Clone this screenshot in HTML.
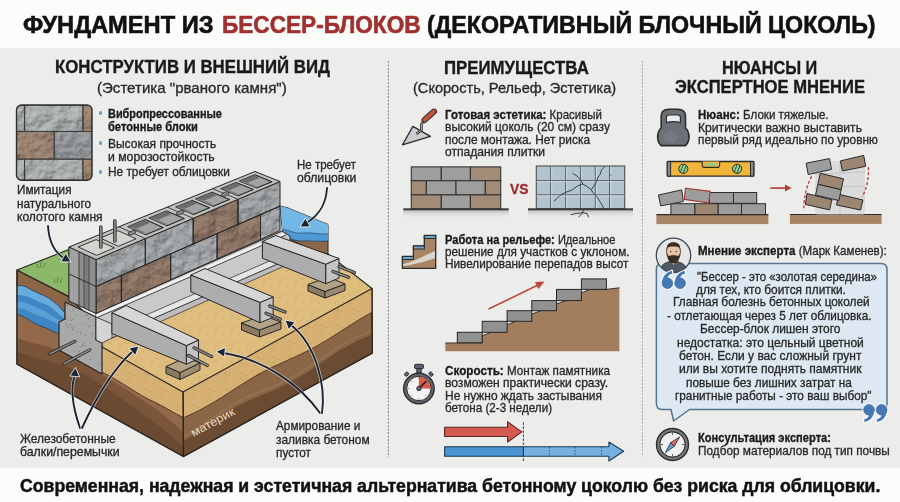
<!DOCTYPE html>
<html><head><meta charset="utf-8"><style>
html,body{margin:0;padding:0;}
body{width:900px;height:502px;overflow:hidden;position:relative;background:#fcfcfb;font-family:"Liberation Sans",sans-serif;}
.t{position:absolute;white-space:nowrap;line-height:1;transform-origin:0 0;-webkit-text-stroke:0.32px currentColor;}
.dot{position:absolute;width:3.6px;height:3.6px;border-radius:50%;background:#6a9bd1;}
.panel{position:absolute;left:0;top:48px;width:900px;height:420px;background:#ececea;}
.vd{position:absolute;width:0;border-left:1.2px dashed #9a9a9a;}

#title1,#title2,#title3{-webkit-text-stroke:0.6px currentColor;}
#cap{-webkit-text-stroke:0.5px currentColor;}
#h1,#h2,#h3a,#h3b{-webkit-text-stroke:0.35px currentColor;}

</style></head><body>
<div class="panel"></div>
<div class="dot" style="left:98.8px;top:111.2px"></div>
<div class="dot" style="left:98.8px;top:141.2px"></div>
<div class="dot" style="left:98.8px;top:170px"></div>
<svg width="900" height="502" viewBox="0 0 900 502" style="position:absolute;left:0;top:0">
<defs>
<linearGradient id="stoneG" x1="0" y1="0" x2="1" y2="1">
 <stop offset="0" stop-color="#b3b6b8"/><stop offset="0.45" stop-color="#9a9d9f"/><stop offset="0.7" stop-color="#a9acae"/><stop offset="1" stop-color="#8c8f91"/>
</linearGradient>
<linearGradient id="stoneB" x1="0" y1="0" x2="1" y2="1">
 <stop offset="0" stop-color="#9c8371"/><stop offset="0.5" stop-color="#87705f"/><stop offset="0.75" stop-color="#957c69"/><stop offset="1" stop-color="#7a6453"/>
</linearGradient>
<linearGradient id="stoneG2" x1="0" y1="0" x2="1" y2="1">
 <stop offset="0" stop-color="#9a9ea1"/><stop offset="0.5" stop-color="#86898c"/><stop offset="1" stop-color="#95989b"/>
</linearGradient>
<pattern id="sandT" width="16" height="16" patternUnits="userSpaceOnUse"><rect width="16" height="16" fill="#dfbd7e"/><circle cx="7.2" cy="9.0" r="0.53" fill="#a88650" opacity="0.69"/><circle cx="8.1" cy="9.4" r="0.35" fill="#a88650" opacity="0.70"/><circle cx="10.1" cy="12.7" r="0.32" fill="#a88650" opacity="0.62"/><circle cx="1.5" cy="13.0" r="0.47" fill="#a88650" opacity="0.52"/><circle cx="15.7" cy="15.4" r="0.46" fill="#a88650" opacity="0.75"/><circle cx="2.5" cy="0.2" r="0.43" fill="#a88650" opacity="0.52"/><circle cx="3.0" cy="3.9" r="0.31" fill="#a88650" opacity="0.69"/><circle cx="7.0" cy="13.5" r="0.43" fill="#a88650" opacity="0.76"/><circle cx="8.0" cy="10.6" r="0.41" fill="#a88650" opacity="0.61"/><circle cx="16.0" cy="15.9" r="0.51" fill="#a88650" opacity="0.78"/><circle cx="5.0" cy="3.7" r="0.37" fill="#a88650" opacity="0.53"/><circle cx="12.3" cy="6.4" r="0.51" fill="#a88650" opacity="0.65"/><circle cx="15.3" cy="13.6" r="0.30" fill="#a88650" opacity="0.58"/><circle cx="14.6" cy="7.5" r="0.55" fill="#a88650" opacity="0.66"/></pattern><pattern id="sandF" width="16" height="16" patternUnits="userSpaceOnUse"><rect width="16" height="16" fill="#d6b173"/><circle cx="1.2" cy="10.1" r="0.49" fill="#9c7a46" opacity="0.61"/><circle cx="1.4" cy="5.3" r="0.54" fill="#9c7a46" opacity="0.80"/><circle cx="1.9" cy="3.9" r="0.33" fill="#9c7a46" opacity="0.52"/><circle cx="12.8" cy="2.8" r="0.44" fill="#9c7a46" opacity="0.68"/><circle cx="3.1" cy="11.7" r="0.33" fill="#9c7a46" opacity="0.76"/><circle cx="1.9" cy="6.7" r="0.35" fill="#9c7a46" opacity="0.61"/><circle cx="15.5" cy="12.9" r="0.38" fill="#9c7a46" opacity="0.85"/><circle cx="3.4" cy="6.3" r="0.51" fill="#9c7a46" opacity="0.76"/><circle cx="1.6" cy="15.8" r="0.35" fill="#9c7a46" opacity="0.60"/><circle cx="12.4" cy="5.3" r="0.37" fill="#9c7a46" opacity="0.53"/><circle cx="1.4" cy="9.3" r="0.36" fill="#9c7a46" opacity="0.74"/><circle cx="5.9" cy="7.3" r="0.54" fill="#9c7a46" opacity="0.69"/><circle cx="9.2" cy="13.9" r="0.35" fill="#9c7a46" opacity="0.56"/><circle cx="14.5" cy="13.1" r="0.36" fill="#9c7a46" opacity="0.58"/></pattern>
<filter id="rock" x="0" y="0" width="100%" height="100%" color-interpolation-filters="sRGB">
 <feTurbulence type="fractalNoise" baseFrequency="0.08" numOctaves="4" seed="7" result="noise"/>
 <feDiffuseLighting in="noise" lighting-color="#ffffff" surfaceScale="3.3" diffuseConstant="1" result="light"><feDistantLight azimuth="235" elevation="55"/></feDiffuseLighting>
 <feComposite in="SourceGraphic" in2="light" operator="arithmetic" k1="0.6" k2="0.48" k3="0" k4="0" result="lit"/>
 <feComposite in="lit" in2="SourceGraphic" operator="in"/>
</filter>
<filter id="grain" x="0" y="0" width="100%" height="100%">
 <feTurbulence type="fractalNoise" baseFrequency="0.9" numOctaves="1" seed="4" result="n"/>
 <feColorMatrix type="matrix" values="0 0 0 0 0.45  0 0 0 0 0.35  0 0 0 0 0.2  0 0 0 -2.2 1.25" in="n" result="d"/>
 <feComposite in="d" in2="SourceGraphic" operator="in"/>
</filter>
</defs>
<line x1="388.4" y1="61" x2="388.4" y2="457" stroke="#8e8e8e" stroke-width="1.1" stroke-dasharray="2.2,1.3"/>
<line x1="642.4" y1="61" x2="642.4" y2="457" stroke="#a8a8a8" stroke-width="1" stroke-dasharray="2.2,1.3"/>
<polygon points="17.0,270.0 69.0,297.0 102.0,330.0 102.0,347.0 183.0,392.0 183.5,456.5 17.0,364.0" fill="#8d6648" stroke="#2a2520" stroke-width="1.2" stroke-linejoin="round" />
<path d="M17,314 C30,318 45,322 64,335 L102,356 C120,368 150,385 183.3,412 L183.5,456.5 L17,364 Z" fill="#94694a"/>
<path d="M17,338 C35,345 50,345 70,356 C95,370 120,385 150,405 C165,415 175,425 183.5,432 L183.5,456.5 L17,364 Z" fill="#7a5539"/>
<path d="M17,352 C40,360 60,362 85,375 C110,390 140,410 183.5,446 L183.5,456.5 L17,364 Z" fill="#6a4a31"/>
<path d="M17,285.8 C25,284 30,290 38,293 C46,296 52,300 58,305 L64,312 L64,336 C55,333 48,328 40,326 C32,323 25,316 17,314.3 Z" fill="#3f86c4"/>
<path d="M17,285.8 C25,284 30,290 38,293 C46,296 52,300 58,305 L64,312 L64,318 C56,312 50,305 42,303 C34,300 26,294 17,295 Z" fill="#66acdf"/>
<path d="M17,302 C26,301 32,306 40,309 C48,312 54,318 64,322 L64,327 C54,323 47,318 40,316 C31,313 25,308 17,308 Z" fill="#5a9fd6"/>
<path d="M17,285.8 C25,284 30,290 38,293 C46,296 52,300 58,305 L64,312" fill="none" stroke="#2a3a4a" stroke-width="0.8"/>
<path d="M17,314.3 C25,316 32,323 40,326 C48,328 55,333 64,336" fill="none" stroke="#2a3a4a" stroke-width="0.8"/>
<path d="M102,347 L183,392 L183,417.5 C172,412 160,404 148,399 C135,392 120,381 102,372 Z" fill="url(#sandF)"/>
<path d="M102,372 C120,381 135,392 148,399 C160,404 172,412 183,417.5" fill="none" stroke="#3a2a1a" stroke-width="0.8"/>
<polygon points="183.0,392.0 372.0,288.5 372.3,353.0 183.5,456.5" fill="#8a6647" stroke="#2a2520" stroke-width="1.2" stroke-linejoin="round" />
<path d="M183.0,441.0 C185.6,439.4 193.5,434.8 198.8,431.4 C204.0,428.0 209.2,424.1 214.5,420.6 C219.8,417.1 225.0,413.5 230.2,410.3 C235.5,407.2 240.8,404.4 246.0,401.8 C251.2,399.2 256.5,397.2 261.8,394.9 C267.0,392.7 272.2,390.8 277.5,388.4 C282.8,386.0 288.0,383.5 293.2,380.6 C298.5,377.7 303.8,374.4 309.0,371.0 C314.2,367.6 319.5,363.7 324.8,360.2 C330.0,356.7 335.2,353.1 340.5,349.9 C345.8,346.8 351.0,344.0 356.2,341.4 C361.5,338.9 369.4,335.7 372.0,334.6 L372.3,353 L183.5,456.5 Z" fill="#6b4b32"/>
<path d="M183.0,441.0 C185.6,439.4 193.5,434.8 198.8,431.4 C204.0,428.0 209.2,424.1 214.5,420.6 C219.8,417.1 225.0,413.5 230.2,410.3 C235.5,407.2 240.8,404.4 246.0,401.8 C251.2,399.2 256.5,397.2 261.8,394.9 C267.0,392.7 272.2,390.8 277.5,388.4 C282.8,386.0 288.0,383.5 293.2,380.6 C298.5,377.7 303.8,374.4 309.0,371.0 C314.2,367.6 319.5,363.7 324.8,360.2 C330.0,356.7 335.2,353.1 340.5,349.9 C345.8,346.8 351.0,344.0 356.2,341.4 C361.5,338.9 369.4,335.7 372.0,334.6" fill="none" stroke="#9c7a59" stroke-width="1.6" opacity="0.6" transform="translate(0,-4)"/>
<path d="M183.0,418.0 C185.6,416.8 193.5,413.3 198.8,410.6 C204.0,407.8 209.2,404.9 214.5,401.8 C219.8,398.7 225.0,395.2 230.2,391.9 C235.5,388.5 240.8,385.0 246.0,381.8 C251.2,378.5 256.5,375.4 261.8,372.6 C267.0,369.7 272.2,367.2 277.5,364.8 C282.8,362.3 288.0,360.1 293.2,357.7 C298.5,355.3 303.8,352.9 309.0,350.2 C314.2,347.5 319.5,344.5 324.8,341.4 C330.0,338.3 335.2,334.8 340.5,331.5 C345.8,328.1 351.0,324.6 356.2,321.4 C361.5,318.2 369.4,313.7 372.0,312.2 L372,288.5 L183,392 Z" fill="url(#sandF)"/>
<path d="M183.0,418.0 C185.6,416.8 193.5,413.3 198.8,410.6 C204.0,407.8 209.2,404.9 214.5,401.8 C219.8,398.7 225.0,395.2 230.2,391.9 C235.5,388.5 240.8,385.0 246.0,381.8 C251.2,378.5 256.5,375.4 261.8,372.6 C267.0,369.7 272.2,367.2 277.5,364.8 C282.8,362.3 288.0,360.1 293.2,357.7 C298.5,355.3 303.8,352.9 309.0,350.2 C314.2,347.5 319.5,344.5 324.8,341.4 C330.0,338.3 335.2,334.8 340.5,331.5 C345.8,328.1 351.0,324.6 356.2,321.4 C361.5,318.2 369.4,313.7 372.0,312.2" fill="none" stroke="#3a2a1a" stroke-width="0.8"/>
<polyline points="17.0,270.0 17.0,364.0 183.5,456.5 372.3,353.0 372.0,288.5" fill="none" stroke="#2a2520" stroke-width="1.3"/>
<line x1="183.3" y1="392" x2="183.5" y2="456.5" stroke="#2a2520" stroke-width="1.2"/>
<polygon points="96.0,315.0 102.0,347.0 183.0,392.0 372.0,288.5 328.0,254.0 283.0,232.0" fill="url(#sandT)" stroke="#2a2520" stroke-width="1.1" stroke-linejoin="round" />
<polygon points="280.0,206.0 288.0,208.0 328.0,224.5 328.0,254.0 312.0,250.0 283.0,236.0" fill="#8d6648" stroke="#2a2520" stroke-width="1" stroke-linejoin="round" />
<path d="M280,206 L288,208 L328,224.5 L328,241 C320,242 312,240.5 304,241 C296,241.5 289,238.5 283,236 Z" fill="#72b7e6"/>
<path d="M283,229 C290,231 296,234 304,233 C312,232 320,235 328,234 L328,241 C320,242 312,240.5 304,241 C296,241.5 289,238.5 283,236 Z" fill="#4d9ad6"/>
<path d="M283,229 C290,231 296,234 304,233 C312,232 320,235 328,234" fill="none" stroke="#2a4a6a" stroke-width="0.7"/>
<path d="M283,236 C289,238.5 296,241.5 304,241 C312,240.5 320,242 328,241" fill="none" stroke="#2a3a4a" stroke-width="0.8"/>
<polygon points="17.0,270.0 70.0,249.0 70.0,297.0" fill="#8cb86a" stroke="#2a2520" stroke-width="1.1" stroke-linejoin="round" />
<path d="M40,268 l1,-6 M43,268 l2,-5 M38,268 l-1,-4 M57,283 l1,-6 M60,283 l2,-5 M55,283 l-1,-4" stroke="#4f7a3a" stroke-width="0.8" fill="none"/>
<polygon points="96.0,313.0 282.0,231.0 290.0,236.0 290.0,256.0 112.0,338.0 96.0,338.0" fill="#c9c9c9" stroke="#262626" stroke-width="1" stroke-linejoin="round" />
<polyline points="96.0,316.0 284.0,234.0" stroke="#f2f2f2" stroke-width="3" fill="none"/>
<polyline points="96.0,318.0 286.0,235.0" stroke="#262626" stroke-width="0.8" fill="none"/>
<polygon points="112.0,330.0 290.0,252.0 296.0,256.0 118.0,334.0" fill="#e6e6e6" stroke="#262626" stroke-width="0.7"/>
<polygon points="118.0,334.0 296.0,256.0 300.0,259.0 124.0,338.0" fill="#bcbcbc" stroke="#262626" stroke-width="0.7"/>
<polygon points="65.0,302.0 96.0,317.0 96.0,340.0 102.0,343.0 102.0,374.0 59.0,350.0 59.0,322.0 65.0,319.0" fill="#a9a9a7" stroke="#262626" stroke-width="1.2" stroke-linejoin="round" />
<circle cx="70.3" cy="340.4" r="0.45" fill="#6f6f6d"/>
<circle cx="84.6" cy="345.7" r="0.33" fill="#6f6f6d"/>
<circle cx="71.1" cy="320.2" r="0.70" fill="#6f6f6d"/>
<circle cx="79.3" cy="359.4" r="0.49" fill="#6f6f6d"/>
<circle cx="85.9" cy="314.8" r="0.55" fill="#6f6f6d"/>
<circle cx="94.9" cy="339.0" r="0.60" fill="#6f6f6d"/>
<circle cx="90.6" cy="343.4" r="0.42" fill="#6f6f6d"/>
<circle cx="79.4" cy="351.7" r="0.65" fill="#6f6f6d"/>
<circle cx="88.9" cy="364.9" r="0.46" fill="#6f6f6d"/>
<circle cx="92.2" cy="333.9" r="0.67" fill="#6f6f6d"/>
<circle cx="66.3" cy="319.1" r="0.69" fill="#6f6f6d"/>
<circle cx="78.0" cy="345.7" r="0.42" fill="#6f6f6d"/>
<circle cx="80.8" cy="330.1" r="0.44" fill="#6f6f6d"/>
<circle cx="83.8" cy="343.0" r="0.66" fill="#6f6f6d"/>
<circle cx="87.2" cy="315.6" r="0.64" fill="#6f6f6d"/>
<circle cx="98.6" cy="363.8" r="0.53" fill="#6f6f6d"/>
<circle cx="88.8" cy="318.7" r="0.63" fill="#6f6f6d"/>
<circle cx="83.4" cy="323.5" r="0.33" fill="#6f6f6d"/>
<circle cx="77.0" cy="314.8" r="0.42" fill="#6f6f6d"/>
<circle cx="91.0" cy="361.7" r="0.32" fill="#6f6f6d"/>
<circle cx="89.0" cy="326.5" r="0.65" fill="#6f6f6d"/>
<circle cx="99.2" cy="337.9" r="0.70" fill="#6f6f6d"/>
<circle cx="73.1" cy="310.0" r="0.54" fill="#6f6f6d"/>
<circle cx="62.2" cy="317.8" r="0.46" fill="#6f6f6d"/>
<circle cx="84.8" cy="315.2" r="0.32" fill="#6f6f6d"/>
<circle cx="94.8" cy="325.4" r="0.68" fill="#6f6f6d"/>
<circle cx="96.0" cy="329.6" r="0.48" fill="#6f6f6d"/>
<circle cx="81.3" cy="346.9" r="0.54" fill="#6f6f6d"/>
<circle cx="82.8" cy="345.3" r="0.68" fill="#6f6f6d"/>
<circle cx="80.8" cy="333.0" r="0.59" fill="#6f6f6d"/>
<circle cx="70.3" cy="324.6" r="0.69" fill="#6f6f6d"/>
<circle cx="81.3" cy="340.6" r="0.30" fill="#6f6f6d"/>
<circle cx="77.2" cy="342.7" r="0.31" fill="#6f6f6d"/>
<circle cx="85.0" cy="346.1" r="0.32" fill="#6f6f6d"/>
<circle cx="85.5" cy="335.3" r="0.57" fill="#6f6f6d"/>
<circle cx="74.8" cy="351.0" r="0.60" fill="#6f6f6d"/>
<circle cx="61.9" cy="308.9" r="0.57" fill="#6f6f6d"/>
<circle cx="98.6" cy="321.3" r="0.48" fill="#6f6f6d"/>
<circle cx="84.1" cy="325.8" r="0.45" fill="#6f6f6d"/>
<circle cx="73.2" cy="329.0" r="0.54" fill="#6f6f6d"/>
<circle cx="72.7" cy="329.5" r="0.61" fill="#6f6f6d"/>
<circle cx="62.0" cy="342.0" r="0.59" fill="#6f6f6d"/>
<circle cx="73.1" cy="319.5" r="0.62" fill="#6f6f6d"/>
<circle cx="70.3" cy="317.2" r="0.47" fill="#6f6f6d"/>
<circle cx="73.6" cy="326.7" r="0.63" fill="#6f6f6d"/>
<circle cx="67.6" cy="326.9" r="0.56" fill="#6f6f6d"/>
<circle cx="95.5" cy="334.3" r="0.39" fill="#6f6f6d"/>
<circle cx="65.7" cy="339.4" r="0.38" fill="#6f6f6d"/>
<circle cx="92.5" cy="359.5" r="0.37" fill="#6f6f6d"/>
<circle cx="86.0" cy="357.4" r="0.44" fill="#6f6f6d"/>
<circle cx="66.1" cy="324.0" r="0.62" fill="#6f6f6d"/>
<circle cx="71.6" cy="327.5" r="0.47" fill="#6f6f6d"/>
<circle cx="77.4" cy="331.6" r="0.67" fill="#6f6f6d"/>
<circle cx="67.1" cy="305.3" r="0.68" fill="#6f6f6d"/>
<circle cx="95.3" cy="369.1" r="0.47" fill="#6f6f6d"/>
<circle cx="98.1" cy="365.3" r="0.39" fill="#6f6f6d"/>
<circle cx="90.1" cy="359.4" r="0.57" fill="#6f6f6d"/>
<circle cx="81.2" cy="323.8" r="0.44" fill="#6f6f6d"/>
<polygon points="96.0,317.0 112.0,324.0 112.0,338.0 102.0,343.0 96.0,340.0" fill="#d4d4d4" stroke="#262626" stroke-width="0.8" stroke-linejoin="round" />
<g filter="url(#rock)">
<polygon points="96.0,259.5 145.3,238.6 145.3,264.9 96.0,286.5" fill="#a2a5a7" stroke="none" stroke-width="0" stroke-linejoin="round" />
<polygon points="145.3,238.6 193.2,218.3 193.2,244.0 145.3,264.9" fill="#a2a5a7" stroke="none" stroke-width="0" stroke-linejoin="round" />
<polygon points="193.2,218.3 238.0,199.3 238.0,224.4 193.2,244.0" fill="#8f7767" stroke="none" stroke-width="0" stroke-linejoin="round" />
<polygon points="238.0,199.3 280.0,181.5 280.0,206.1 238.0,224.4" fill="#a2a5a7" stroke="none" stroke-width="0" stroke-linejoin="round" />
<polygon points="96.0,286.5 121.4,275.4 121.4,302.1 96.0,313.5" fill="#8f7767" stroke="none" stroke-width="0" stroke-linejoin="round" />
<polygon points="121.4,275.4 170.7,253.8 170.7,279.9 121.4,302.1" fill="#8f7767" stroke="none" stroke-width="0" stroke-linejoin="round" />
<polygon points="170.7,253.8 217.1,233.6 217.1,259.0 170.7,279.9" fill="#a2a5a7" stroke="none" stroke-width="0" stroke-linejoin="round" />
<polygon points="217.1,233.6 260.5,214.6 260.5,239.4 217.1,259.0" fill="#8f7767" stroke="none" stroke-width="0" stroke-linejoin="round" />
<polygon points="260.5,214.6 280.0,206.1 280.0,230.6 260.5,239.4" fill="#a2a5a7" stroke="none" stroke-width="0" stroke-linejoin="round" />
</g>
<polygon points="96.0,259.5 145.3,238.6 145.3,264.9 96.0,286.5" fill="none" stroke="#262626" stroke-width="1" stroke-linejoin="round" />
<polygon points="145.3,238.6 193.2,218.3 193.2,244.0 145.3,264.9" fill="none" stroke="#262626" stroke-width="1" stroke-linejoin="round" />
<polygon points="193.2,218.3 238.0,199.3 238.0,224.4 193.2,244.0" fill="none" stroke="#262626" stroke-width="1" stroke-linejoin="round" />
<polygon points="238.0,199.3 280.0,181.5 280.0,206.1 238.0,224.4" fill="none" stroke="#262626" stroke-width="1" stroke-linejoin="round" />
<polygon points="96.0,286.5 121.4,275.4 121.4,302.1 96.0,313.5" fill="none" stroke="#262626" stroke-width="1" stroke-linejoin="round" />
<polygon points="121.4,275.4 170.7,253.8 170.7,279.9 121.4,302.1" fill="none" stroke="#262626" stroke-width="1" stroke-linejoin="round" />
<polygon points="170.7,253.8 217.1,233.6 217.1,259.0 170.7,279.9" fill="none" stroke="#262626" stroke-width="1" stroke-linejoin="round" />
<polygon points="217.1,233.6 260.5,214.6 260.5,239.4 217.1,259.0" fill="none" stroke="#262626" stroke-width="1" stroke-linejoin="round" />
<polygon points="260.5,214.6 280.0,206.1 280.0,230.6 260.5,239.4" fill="none" stroke="#262626" stroke-width="1" stroke-linejoin="round" />
<polygon points="69.0,247.0 96.0,259.5 96.0,313.5 69.0,301.0" fill="#8e8e8e" stroke="#262626" stroke-width="1" stroke-linejoin="round" />
<polygon points="69.0,247.0 79.0,251.5 79.0,305.5 69.0,301.0" fill="#a2a2a2" stroke="#262626" stroke-width="0.8" stroke-linejoin="round" />
<polygon points="84.0,254.0 89.0,256.3 89.0,310.3 84.0,308.0" fill="#7d7d7d" stroke="#262626" stroke-width="0.6" stroke-linejoin="round" />
<line x1="69" y1="274" x2="96" y2="286.5" stroke="#262626" stroke-width="0.9"/>
<polygon points="69.0,247.0 96.0,259.5 280.0,181.5 255.0,171.5" fill="#c2c2c0" stroke="#262626" stroke-width="1" stroke-linejoin="round" />
<polygon points="96.6,255.4 114.4,247.9 96.2,239.6 78.3,247.0" fill="#d3d3d0" stroke="#262626" stroke-width="0.9" stroke-linejoin="round" />
<polygon points="118.4,246.3 136.1,238.8 118.1,230.7 100.2,238.0" fill="#d3d3d0" stroke="#262626" stroke-width="0.9" stroke-linejoin="round" />
<line x1="145.3" y1="238.6" x2="118.8" y2="226.8" stroke="#262626" stroke-width="0.8"/>
<ellipse cx="132.1" cy="232.7" rx="4.2" ry="1.8" transform="rotate(-22 132.1 232.7)" fill="#8a8a8a" stroke="#262626" stroke-width="0.7"/>
<polygon points="145.9,234.7 163.1,227.4 145.3,219.6 127.9,226.7" fill="#a3a3a3" stroke="#262626" stroke-width="1.1" stroke-linejoin="round" />
<polygon points="127.9,226.7 145.3,219.6 149.7,223.1 136.2,228.7" fill="#6c6c6c" stroke="none" stroke-width="0" stroke-linejoin="round" />
<polygon points="145.9,234.7 127.9,226.7 136.7,228.5 144.0,231.8" fill="#7e7e7e" stroke="none" stroke-width="0" stroke-linejoin="round" />
<polygon points="167.0,225.8 184.2,218.5 166.5,210.9 149.2,218.0" fill="#a3a3a3" stroke="#262626" stroke-width="1.1" stroke-linejoin="round" />
<polygon points="149.2,218.0 166.5,210.9 170.8,214.4 157.4,220.0" fill="#6c6c6c" stroke="none" stroke-width="0" stroke-linejoin="round" />
<polygon points="167.0,225.8 149.2,218.0 157.8,219.8 165.2,223.0" fill="#7e7e7e" stroke="none" stroke-width="0" stroke-linejoin="round" />
<line x1="193.2" y1="218.3" x2="167.2" y2="207.1" stroke="#262626" stroke-width="0.8"/>
<ellipse cx="180.2" cy="212.7" rx="4.2" ry="1.8" transform="rotate(-22 180.2 212.7)" fill="#8a8a8a" stroke="#262626" stroke-width="0.7"/>
<polygon points="193.5,214.6 209.7,207.8 192.2,200.4 175.9,207.1" fill="#a3a3a3" stroke="#262626" stroke-width="1.1" stroke-linejoin="round" />
<polygon points="175.9,207.1 192.2,200.4 196.6,203.8 183.9,209.0" fill="#6c6c6c" stroke="none" stroke-width="0" stroke-linejoin="round" />
<polygon points="193.5,214.6 175.9,207.1 184.4,208.8 191.6,211.9" fill="#7e7e7e" stroke="none" stroke-width="0" stroke-linejoin="round" />
<polygon points="213.3,206.3 229.5,199.5 212.1,192.3 195.8,198.9" fill="#a3a3a3" stroke="#262626" stroke-width="1.1" stroke-linejoin="round" />
<polygon points="195.8,198.9 212.1,192.3 216.4,195.6 203.8,200.8" fill="#6c6c6c" stroke="none" stroke-width="0" stroke-linejoin="round" />
<polygon points="213.3,206.3 195.8,198.9 204.2,200.6 211.4,203.6" fill="#7e7e7e" stroke="none" stroke-width="0" stroke-linejoin="round" />
<line x1="238.0" y1="199.3" x2="212.6" y2="188.7" stroke="#262626" stroke-width="0.8"/>
<ellipse cx="225.3" cy="194.0" rx="4.2" ry="1.8" transform="rotate(-22 225.3 194.0)" fill="#8a8a8a" stroke="#262626" stroke-width="0.7"/>
<polygon points="238.2,195.8 253.3,189.5 236.1,182.4 220.9,188.7" fill="#a3a3a3" stroke="#262626" stroke-width="1.1" stroke-linejoin="round" />
<polygon points="220.9,188.7 236.1,182.4 240.5,185.6 228.7,190.5" fill="#6c6c6c" stroke="none" stroke-width="0" stroke-linejoin="round" />
<polygon points="238.2,195.8 220.9,188.7 229.1,190.3 236.2,193.3" fill="#7e7e7e" stroke="none" stroke-width="0" stroke-linejoin="round" />
<polygon points="256.7,188.0 271.8,181.7 254.8,174.8 239.5,181.1" fill="#a3a3a3" stroke="#262626" stroke-width="1.1" stroke-linejoin="round" />
<polygon points="239.5,181.1 254.8,174.8 259.1,177.9 247.3,182.8" fill="#6c6c6c" stroke="none" stroke-width="0" stroke-linejoin="round" />
<polygon points="256.7,188.0 239.5,181.1 247.7,182.7 254.7,185.5" fill="#7e7e7e" stroke="none" stroke-width="0" stroke-linejoin="round" />
<line x1="100.8" y1="227" x2="100.8" y2="247" stroke="#262626" stroke-width="3.6" stroke-linecap="round"/>
<line x1="100.8" y1="227" x2="100.8" y2="247" stroke="#8a8a8a" stroke-width="2" stroke-linecap="round"/>
<line x1="114.8" y1="221" x2="114.8" y2="241" stroke="#262626" stroke-width="3.6" stroke-linecap="round"/>
<line x1="114.8" y1="221" x2="114.8" y2="241" stroke="#8a8a8a" stroke-width="2" stroke-linecap="round"/>
<polygon points="308.0,284.5 325.0,291.5 325.0,298.0 308.0,291.0" fill="#8c7b63" stroke="#262626" stroke-width="1" stroke-linejoin="round" />
<polygon points="325.0,291.5 345.0,284.0 345.0,290.5 325.0,298.0" fill="#9d8b70" stroke="#262626" stroke-width="1" stroke-linejoin="round" />
<polygon points="308.0,284.5 328.0,277.0 345.0,284.0 325.0,291.5" fill="#b4a387" stroke="#262626" stroke-width="1" stroke-linejoin="round" />
<polygon points="262.4,241.5 325.8,264.2 325.8,283.7 262.4,258.2" fill="#adadad" stroke="#262626" stroke-width="1" stroke-linejoin="round" />
<polygon points="325.8,264.2 339.0,258.5 339.0,278.0 325.8,283.7" fill="#c4c4c4" stroke="#262626" stroke-width="1" stroke-linejoin="round" />
<polygon points="262.4,241.5 275.6,235.5 339.0,258.5 325.8,264.2" fill="#d6d6d6" stroke="#262626" stroke-width="1" stroke-linejoin="round" />
<line x1="339" y1="266.6" x2="354.4" y2="272.6" stroke="#262626" stroke-width="3.2" stroke-linecap="round"/>
<line x1="339" y1="266.6" x2="354.4" y2="272.6" stroke="#8c8c8c" stroke-width="1.6" stroke-linecap="round"/>
<line x1="333" y1="271.4" x2="348.5" y2="277.3" stroke="#262626" stroke-width="3.2" stroke-linecap="round"/>
<line x1="333" y1="271.4" x2="348.5" y2="277.3" stroke="#8c8c8c" stroke-width="1.6" stroke-linecap="round"/>
<polygon points="241.5,323.0 259.5,330.0 259.5,337.0 241.5,330.0" fill="#8c7b63" stroke="#262626" stroke-width="1" stroke-linejoin="round" />
<polygon points="259.5,330.0 281.0,322.0 281.0,329.0 259.5,337.0" fill="#9d8b70" stroke="#262626" stroke-width="1" stroke-linejoin="round" />
<polygon points="241.5,323.0 263.0,315.5 281.0,322.0 259.5,330.0" fill="#b4a387" stroke="#262626" stroke-width="1" stroke-linejoin="round" />
<polygon points="190.8,275.0 260.0,302.4 260.0,322.7 190.8,291.7" fill="#adadad" stroke="#262626" stroke-width="1" stroke-linejoin="round" />
<polygon points="260.0,302.4 273.2,297.0 273.2,317.3 260.0,322.7" fill="#c4c4c4" stroke="#262626" stroke-width="1" stroke-linejoin="round" />
<polygon points="190.8,275.0 205.0,268.5 273.2,297.0 260.0,302.4" fill="#d6d6d6" stroke="#262626" stroke-width="1" stroke-linejoin="round" />
<line x1="269.6" y1="306" x2="285.1" y2="312" stroke="#262626" stroke-width="3.2" stroke-linecap="round"/>
<line x1="269.6" y1="306" x2="285.1" y2="312" stroke="#8c8c8c" stroke-width="1.6" stroke-linecap="round"/>
<line x1="266" y1="313.2" x2="280.4" y2="319.2" stroke="#262626" stroke-width="3.2" stroke-linecap="round"/>
<line x1="266" y1="313.2" x2="280.4" y2="319.2" stroke="#8c8c8c" stroke-width="1.6" stroke-linecap="round"/>
<polygon points="166.0,366.5 180.0,372.5 180.0,379.5 166.0,373.5" fill="#8c7b63" stroke="#262626" stroke-width="1" stroke-linejoin="round" />
<polygon points="180.0,372.5 200.0,363.0 200.0,370.0 180.0,379.5" fill="#9d8b70" stroke="#262626" stroke-width="1" stroke-linejoin="round" />
<polygon points="166.0,366.5 186.0,357.5 200.0,363.0 180.0,372.5" fill="#b4a387" stroke="#262626" stroke-width="1" stroke-linejoin="round" />
<polygon points="111.9,312.7 186.4,345.6 186.4,364.2 111.9,333.6" fill="#adadad" stroke="#262626" stroke-width="1" stroke-linejoin="round" />
<polygon points="186.4,345.6 198.5,340.0 198.5,358.6 186.4,364.2" fill="#c4c4c4" stroke="#262626" stroke-width="1" stroke-linejoin="round" />
<polygon points="111.9,312.7 126.2,305.5 198.5,340.0 186.4,345.6" fill="#d6d6d6" stroke="#262626" stroke-width="1" stroke-linejoin="round" />
<line x1="194" y1="347.8" x2="211.6" y2="356.6" stroke="#262626" stroke-width="3.2" stroke-linecap="round"/>
<line x1="194" y1="347.8" x2="211.6" y2="356.6" stroke="#8c8c8c" stroke-width="1.6" stroke-linecap="round"/>
<line x1="188.6" y1="355.5" x2="207.3" y2="365.3" stroke="#262626" stroke-width="3.2" stroke-linecap="round"/>
<line x1="188.6" y1="355.5" x2="207.3" y2="365.3" stroke="#8c8c8c" stroke-width="1.6" stroke-linecap="round"/>
<line x1="49.9" y1="353.7" x2="74.8" y2="341.4" stroke="#262626" stroke-width="3.2" stroke-linecap="round"/>
<line x1="49.9" y1="353.7" x2="74.8" y2="341.4" stroke="#8c8c8c" stroke-width="1.6" stroke-linecap="round"/>
<line x1="63.9" y1="363.7" x2="89.8" y2="349.8" stroke="#262626" stroke-width="3.2" stroke-linecap="round"/>
<line x1="63.9" y1="363.7" x2="89.8" y2="349.8" stroke="#8c8c8c" stroke-width="1.6" stroke-linecap="round"/>
<path d="M48,226 C49,242 54,252 64,258" fill="none" stroke="#ffffff" stroke-width="3.2" stroke-linecap="round" opacity="0.7"/>
<path d="M48,226 C49,242 54,252 64,258" fill="none" stroke="#1c2433" stroke-width="1.9" stroke-linecap="round"/>
<polygon points="71.0,262.0 60.7,261.8 65.7,253.2" fill="#1c2433" stroke="#ffffff" stroke-width="0.8" stroke-linejoin="round"/>
<path d="M327,188 C326,204 320,214 308,222" fill="none" stroke="#ffffff" stroke-width="3.2" stroke-linecap="round" opacity="0.7"/>
<path d="M327,188 C326,204 320,214 308,222" fill="none" stroke="#1c2433" stroke-width="1.9" stroke-linecap="round"/>
<polygon points="300.0,227.0 305.3,218.2 310.3,226.8" fill="#1c2433" stroke="#ffffff" stroke-width="0.8" stroke-linejoin="round"/>
<path d="M80,428 C72,405 70,388 75,375" fill="none" stroke="#ffffff" stroke-width="3.2" stroke-linecap="round" opacity="0.7"/>
<path d="M80,428 C72,405 70,388 75,375" fill="none" stroke="#1c2433" stroke-width="1.9" stroke-linecap="round"/>
<polygon points="75.5,367.5 79.6,376.9 69.8,376.0" fill="#1c2433" stroke="#ffffff" stroke-width="0.8" stroke-linejoin="round"/>
<path d="M82,428 C95,400 112,370 133,351" fill="none" stroke="#ffffff" stroke-width="3.2" stroke-linecap="round" opacity="0.7"/>
<path d="M82,428 C95,400 112,370 133,351" fill="none" stroke="#1c2433" stroke-width="1.9" stroke-linecap="round"/>
<polygon points="139.0,346.0 135.3,355.6 128.9,348.0" fill="#1c2433" stroke="#ffffff" stroke-width="0.8" stroke-linejoin="round"/>
<path d="M320,413 C300,385 265,360 224,353" fill="none" stroke="#ffffff" stroke-width="3.2" stroke-linecap="round" opacity="0.7"/>
<path d="M320,413 C300,385 265,360 224,353" fill="none" stroke="#1c2433" stroke-width="1.9" stroke-linecap="round"/>
<polygon points="216.0,351.5 225.4,347.4 224.5,357.2" fill="#1c2433" stroke="#ffffff" stroke-width="0.8" stroke-linejoin="round"/>
<path d="M322,413 C326,385 316,345 291,325" fill="none" stroke="#ffffff" stroke-width="3.2" stroke-linecap="round" opacity="0.7"/>
<path d="M322,413 C326,385 316,345 291,325" fill="none" stroke="#1c2433" stroke-width="1.9" stroke-linecap="round"/>
<polygon points="285.0,320.0 295.1,322.0 288.7,329.6" fill="#1c2433" stroke="#ffffff" stroke-width="0.8" stroke-linejoin="round"/>
<clipPath id="swclip"><rect x="16.5" y="105" width="75.5" height="75.2" rx="5"/></clipPath>
<g clip-path="url(#swclip)">
<g filter="url(#rock)">
<rect x="16.5" y="105" width="8.100000000000001" height="26.400000000000006" fill="#adb0b1"/>
<rect x="24.6" y="105" width="58.300000000000004" height="26.400000000000006" fill="#adb0b1"/>
<rect x="82.9" y="105" width="9.099999999999994" height="26.400000000000006" fill="#a08774"/>
<rect x="16.5" y="131.4" width="37.7" height="27.69999999999999" fill="#a08774"/>
<rect x="54.2" y="131.4" width="37.8" height="27.69999999999999" fill="#96999c"/>
<rect x="16.5" y="159.1" width="8.100000000000001" height="21.099999999999994" fill="#adb0b1"/>
<rect x="24.6" y="159.1" width="58.300000000000004" height="21.099999999999994" fill="#adb0b1"/>
<rect x="82.9" y="159.1" width="9.099999999999994" height="21.099999999999994" fill="#a08774"/>
</g>
<rect x="16.5" y="105" width="8.100000000000001" height="26.400000000000006" fill="none" stroke="#3a3a3a" stroke-width="0.9"/>
<rect x="24.6" y="105" width="58.300000000000004" height="26.400000000000006" fill="none" stroke="#3a3a3a" stroke-width="0.9"/>
<rect x="82.9" y="105" width="9.099999999999994" height="26.400000000000006" fill="none" stroke="#3a3a3a" stroke-width="0.9"/>
<rect x="16.5" y="131.4" width="37.7" height="27.69999999999999" fill="none" stroke="#3a3a3a" stroke-width="0.9"/>
<rect x="54.2" y="131.4" width="37.8" height="27.69999999999999" fill="none" stroke="#3a3a3a" stroke-width="0.9"/>
<rect x="16.5" y="159.1" width="8.100000000000001" height="21.099999999999994" fill="none" stroke="#3a3a3a" stroke-width="0.9"/>
<rect x="24.6" y="159.1" width="58.300000000000004" height="21.099999999999994" fill="none" stroke="#3a3a3a" stroke-width="0.9"/>
<rect x="82.9" y="159.1" width="9.099999999999994" height="21.099999999999994" fill="none" stroke="#3a3a3a" stroke-width="0.9"/>
</g>
<rect x="16.5" y="105" width="75.5" height="75.2" rx="5" fill="none" stroke="#2e2e2e" stroke-width="1.4"/>
<polygon points="402.5,144.8 412.9,126.4 430.4,136.4" fill="#c9cdd1" stroke="#2b2b2b" stroke-width="1.3" stroke-linejoin="round" />
<path d="M416.4,133.9 L421.4,129.9 L421.4,124 L424.5,120.2" fill="none" stroke="#2b2b2b" stroke-width="2.6" stroke-linejoin="round"/>
<path d="M416.4,133.9 L421.4,129.9 L421.4,124 L424.5,120.2" fill="none" stroke="#a0a0a0" stroke-width="1.1" stroke-linejoin="round"/>
<line x1="424.5" y1="120" x2="434" y2="111.6" stroke="#2b2b2b" stroke-width="6" stroke-linecap="round"/>
<line x1="424.5" y1="120" x2="434" y2="111.6" stroke="#c4553c" stroke-width="4" stroke-linecap="round"/>
<linearGradient id="gshade" x1="0" y1="0" x2="0" y2="1"><stop offset="0" stop-color="#b9b9b9"/><stop offset="1" stop-color="#ececea" stop-opacity="0"/></linearGradient>
<rect x="403.3" y="209.5" width="105.4" height="10" fill="url(#gshade)"/>
<rect x="528" y="209.5" width="105" height="10" fill="url(#gshade)"/>
<rect x="411.3" y="166.9" width="30.0" height="13.799999999999983" fill="#9e9e9e" stroke="#333" stroke-width="1.1"/>
<rect x="441.3" y="166.9" width="29.099999999999966" height="13.799999999999983" fill="#9e9e9e" stroke="#333" stroke-width="1.1"/>
<rect x="470.4" y="166.9" width="30.30000000000001" height="13.799999999999983" fill="#a28b77" stroke="#333" stroke-width="1.1"/>
<rect x="411.3" y="180.7" width="15.099999999999966" height="14.200000000000017" fill="#a28b77" stroke="#333" stroke-width="1.1"/>
<rect x="426.4" y="180.7" width="29.600000000000023" height="14.200000000000017" fill="#9e9e9e" stroke="#333" stroke-width="1.1"/>
<rect x="456" y="180.7" width="29.30000000000001" height="14.200000000000017" fill="#9e9e9e" stroke="#333" stroke-width="1.1"/>
<rect x="485.3" y="180.7" width="15.399999999999977" height="14.200000000000017" fill="#a28b77" stroke="#333" stroke-width="1.1"/>
<rect x="411.3" y="194.9" width="30.0" height="13.799999999999983" fill="#a28b77" stroke="#333" stroke-width="1.1"/>
<rect x="441.3" y="194.9" width="29.099999999999966" height="13.799999999999983" fill="#9e9e9e" stroke="#333" stroke-width="1.1"/>
<rect x="470.4" y="194.9" width="30.30000000000001" height="13.799999999999983" fill="#a28b77" stroke="#333" stroke-width="1.1"/>
<rect x="403.3" y="208.3" width="105.4" height="2" fill="#3a3a3a"/>
<rect x="536.3" y="166" width="88.4" height="42.7" fill="#b1c5d1" stroke="#4d4d4d" stroke-width="1.1"/>
<line x1="550.7" y1="166" x2="550.7" y2="208.7" stroke="#555" stroke-width="1"/>
<line x1="551.7" y1="166.5" x2="551.7" y2="208.5" stroke="#eef3f6" stroke-width="0.6"/>
<line x1="565.7" y1="166" x2="565.7" y2="208.7" stroke="#555" stroke-width="1"/>
<line x1="566.7" y1="166.5" x2="566.7" y2="208.5" stroke="#eef3f6" stroke-width="0.6"/>
<line x1="580.7" y1="166" x2="580.7" y2="208.7" stroke="#555" stroke-width="1"/>
<line x1="581.7" y1="166.5" x2="581.7" y2="208.5" stroke="#eef3f6" stroke-width="0.6"/>
<line x1="595.3" y1="166" x2="595.3" y2="208.7" stroke="#555" stroke-width="1"/>
<line x1="596.3" y1="166.5" x2="596.3" y2="208.5" stroke="#eef3f6" stroke-width="0.6"/>
<line x1="609.6" y1="166" x2="609.6" y2="208.7" stroke="#555" stroke-width="1"/>
<line x1="610.6" y1="166.5" x2="610.6" y2="208.5" stroke="#eef3f6" stroke-width="0.6"/>
<line x1="536.3" y1="180.7" x2="624.7" y2="180.7" stroke="#555" stroke-width="1"/>
<line x1="536.5" y1="181.7" x2="624.5" y2="181.7" stroke="#eef3f6" stroke-width="0.6"/>
<line x1="536.3" y1="194.9" x2="624.7" y2="194.9" stroke="#555" stroke-width="1"/>
<line x1="536.5" y1="195.9" x2="624.5" y2="195.9" stroke="#eef3f6" stroke-width="0.6"/>
<rect x="528" y="208.3" width="105" height="2" fill="#3a3a3a"/>
<path d="M572.7,173.3 L577,176 L581.3,180.7 L582.7,184 L587,186.5 L590.7,189.3 L592.7,192 L597.3,197.3 L600.5,202.5 L604,208.7" fill="none" stroke="#2a3440" stroke-width="0.9"/>
<path d="M582.7,184 L577.3,186 L572,190 L564.7,192.7 L560,195.3 L557,198.5 L554,201.3" fill="none" stroke="#2a3440" stroke-width="0.9"/>
<path d="M591.5,189.5 L595,184 L596.7,181.3 L598,177 L600,174.7 L601.5,170 L604.7,166.7" fill="none" stroke="#2a3440" stroke-width="0.9"/>
<path d="M609.5,176 L611.5,174.5" fill="none" stroke="#2a3440" stroke-width="0.6"/>
<path d="M583.3,209.3 L582.7,212.7 L578.7,217.3 M582.7,212.7 L576,213.5 L570.7,214.7 M582.7,212.7 L587,213.5 L588.7,217.3" fill="none" stroke="#2a3440" stroke-width="0.9"/>
<polygon points="402.4,256.5 413.4,256.5 413.4,246.0 424.3,246.0 424.3,235.5 435.7,235.5 435.7,268.3 402.4,268.3" fill="#a98566" stroke="#2b2b2b" stroke-width="1.3" stroke-linejoin="round" />
<path d="M403,264 C412,262 420,258 426,255 C430,253 433,252 435,251 L435,258 C428,261 418,263 410,265 L403,266 Z" fill="#d9d4ce"/>
<rect x="402.4" y="256.5" width="11.0" height="3" fill="#6ea5cf" stroke="#2b2b2b" stroke-width="1"/>
<rect x="413.4" y="246" width="10.900000000000034" height="3" fill="#6ea5cf" stroke="#2b2b2b" stroke-width="1"/>
<rect x="424.3" y="235.5" width="11.399999999999977" height="3" fill="#6ea5cf" stroke="#2b2b2b" stroke-width="1"/>
<polygon points="445.3,351.3 445.3,343.0 482.2,342.8 482.2,335.7 491.2,332.3 507.1,324.7 516.1,321.3 531.8,314.1 540.8,310.7 556.5,304.0 565.5,300.6 581.4,292.8 590.4,289.4 606.4,289.4 619.4,287.8 619.4,351.3" fill="#a27e5f"/>
<polyline points="445.3,343.0 482.2,342.8 482.2,335.7 491.2,332.3 507.1,324.7 516.1,321.3 531.8,314.1 540.8,310.7 556.5,304.0 565.5,300.6 581.4,292.8 590.4,289.4 606.4,289.4 619.4,287.8" fill="none" stroke="#262626" stroke-width="0.9"/>
<rect x="457.3" y="332.3" width="24.899999999999977" height="10.5" fill="#919191" stroke="#262626" stroke-width="1"/>
<rect x="482.2" y="321.3" width="24.900000000000034" height="11.0" fill="#919191" stroke="#262626" stroke-width="1"/>
<rect x="507.1" y="310.7" width="24.699999999999932" height="10.600000000000023" fill="#919191" stroke="#262626" stroke-width="1"/>
<rect x="531.8" y="300.6" width="24.700000000000045" height="10.099999999999966" fill="#919191" stroke="#262626" stroke-width="1"/>
<rect x="556.5" y="289.4" width="24.899999999999977" height="11.200000000000045" fill="#919191" stroke="#262626" stroke-width="1"/>
<rect x="581.4" y="278.9" width="25.0" height="10.5" fill="#919191" stroke="#262626" stroke-width="1"/>
<line x1="488.6" y1="309" x2="539" y2="284.5" stroke="#c0463b" stroke-width="1.6"/>
<polygon points="544.5,281.6 535,282 538.5,289" fill="#c0463b"/>
<rect x="414.5" y="364.3" width="9" height="4.5" rx="1.5" fill="#5c6470" stroke="#2b2b2b" stroke-width="1"/>
<rect x="416.8" y="368.5" width="4.4" height="4" fill="#5c6470" stroke="#2b2b2b" stroke-width="0.9"/>
<rect x="404.5" y="372.5" width="4.2" height="3.2" rx="1" fill="#5c6470" stroke="#2b2b2b" stroke-width="0.9" transform="rotate(-45 406.6 374.1)"/>
<rect x="428.9" y="372.5" width="4.2" height="3.2" rx="1" fill="#5c6470" stroke="#2b2b2b" stroke-width="0.9" transform="rotate(45 431 374.1)"/>
<circle cx="418.9" cy="388.5" r="15.3" fill="#5c6470" stroke="#2b2b2b" stroke-width="1.3"/>
<circle cx="418.9" cy="388.5" r="12.2" fill="#f3f3f3" stroke="#2b2b2b" stroke-width="1"/>
<path d="M418.9,388.5 L418.9,376.8 A11.7,11.7 0 0 1 430.59999999999997,388.5 Z" fill="#e05a4b"/>
<line x1="418.9" y1="379.0" x2="418.9" y2="377.3" stroke="#777" stroke-width="0.7"/>
<line x1="425.6" y1="381.8" x2="426.8" y2="380.6" stroke="#777" stroke-width="0.7"/>
<line x1="428.4" y1="388.5" x2="430.1" y2="388.5" stroke="#777" stroke-width="0.7"/>
<line x1="425.6" y1="395.2" x2="426.8" y2="396.4" stroke="#777" stroke-width="0.7"/>
<line x1="418.9" y1="398.0" x2="418.9" y2="399.7" stroke="#777" stroke-width="0.7"/>
<line x1="412.2" y1="395.2" x2="411.0" y2="396.4" stroke="#777" stroke-width="0.7"/>
<line x1="409.4" y1="388.5" x2="407.7" y2="388.5" stroke="#777" stroke-width="0.7"/>
<line x1="412.2" y1="381.8" x2="411.0" y2="380.6" stroke="#777" stroke-width="0.7"/>
<line x1="418.9" y1="388.5" x2="425.79999999999995" y2="381.6" stroke="#2b2b2b" stroke-width="1.8" stroke-linecap="round"/>
<circle cx="418.9" cy="388.5" r="2.2" fill="#5c6470" stroke="#2b2b2b" stroke-width="0.9"/>
<polygon points="444.6,427.2 507.6,427.2 507.6,421.8 521.9,431.9 507.6,442 507.6,436.5 444.6,436.5" fill="#d45a4e" stroke="#5e2622" stroke-width="1.1" stroke-linejoin="round"/>
<linearGradient id="bluar" x1="0" y1="0" x2="1" y2="0"><stop offset="0" stop-color="#4a94d0"/><stop offset="0.44" stop-color="#4a94d0"/><stop offset="0.44" stop-color="#75b1e0"/><stop offset="1" stop-color="#75b1e0"/></linearGradient>
<polygon points="444.6,446.7 608.9,446.7 608.9,442 623.7,451.3 608.9,461 608.9,456.2 444.6,456.2" fill="url(#bluar)" stroke="#1f3a55" stroke-width="1.1" stroke-linejoin="round"/>
<line x1="549.4" y1="447" x2="549.4" y2="456" stroke="#1f3a55" stroke-width="0.8" stroke-dasharray="1.5,1.5"/>
<line x1="575.1" y1="447" x2="575.1" y2="456" stroke="#1f3a55" stroke-width="0.8" stroke-dasharray="1.5,1.5"/>
<line x1="601.5" y1="447" x2="601.5" y2="456" stroke="#1f3a55" stroke-width="0.8" stroke-dasharray="1.5,1.5"/>
<line x1="523.4" y1="422.4" x2="523.4" y2="461.4" stroke="#222" stroke-width="0.9" stroke-dasharray="2.5,1.5"/>
<line x1="523.4" y1="446.7" x2="523.4" y2="456.2" stroke="#1f3a55" stroke-width="1"/>
<path d="M661.2,128 L661.2,116.5 C661.2,111.5 664.5,109.3 669,109.3 L677.5,109.3 C682,109.3 685.5,111.5 685.5,116.5 L685.5,128 C690,132 690.5,141 685.5,145.6 L661.2,145.6 C656.2,141 656.7,132 661.2,128 Z" fill="#6b7177" stroke="#2b2b2b" stroke-width="1.6" stroke-linejoin="round"/>
<path d="M666.3,122.6 L666.3,117.5 C666.3,115.8 667.3,115 669,115 L677.7,115 C679.4,115 680.4,115.8 680.4,117.5 L680.4,122.6 C676,121.3 670.7,121.3 666.3,122.6 Z" fill="#ececea" stroke="#2b2b2b" stroke-width="1.2"/>
<ellipse cx="671" cy="137" rx="7" ry="6" fill="#7d838a" opacity="0.5"/>
<rect x="667.3" y="161.5" width="86.5" height="14.6" rx="1" fill="#f2b53c" stroke="#2b2b2b" stroke-width="1.3"/>
<rect x="667.3" y="161.5" width="3.3" height="14.6" fill="#8a8a8a" stroke="#2b2b2b" stroke-width="1"/>
<rect x="750.5" y="161.5" width="3.3" height="14.6" fill="#8a8a8a" stroke="#2b2b2b" stroke-width="1"/>
<path d="M702.2,161.5 L702.2,166 L703.5,167.4 L718.3,167.4 L719.6,166 L719.6,161.5" fill="#f2b53c" stroke="#2b2b2b" stroke-width="1.1"/>
<rect x="705" y="163.2" width="12" height="2.6" rx="1" fill="#8fd08a"/>
<circle cx="683.3" cy="168.8" r="4.6" fill="#8fcf8a" stroke="#2b2b2b" stroke-width="1"/>
<line x1="681.8" y1="165" x2="681.8" y2="172.6" stroke="#2b2b2b" stroke-width="0.7" transform="rotate(20 683.3 168.8)"/>
<line x1="684.8" y1="165" x2="684.8" y2="172.6" stroke="#2b2b2b" stroke-width="0.7" transform="rotate(20 683.3 168.8)"/>
<circle cx="737.1" cy="168.8" r="4.6" fill="#8fcf8a" stroke="#2b2b2b" stroke-width="1"/>
<line x1="735.6" y1="165" x2="735.6" y2="172.6" stroke="#2b2b2b" stroke-width="0.7" transform="rotate(20 737.1 168.8)"/>
<line x1="738.6" y1="165" x2="738.6" y2="172.6" stroke="#2b2b2b" stroke-width="0.7" transform="rotate(20 737.1 168.8)"/>
<rect x="656.4" y="214.6" width="112" height="9.5" fill="#a68565"/>
<line x1="656.4" y1="214.6" x2="768.4" y2="214.6" stroke="#2b2b2b" stroke-width="1.2"/>
<rect x="670.9" y="203.7" width="24.0" height="10.9" fill="#9d9d9d" stroke="#2b2b2b" stroke-width="1"/>
<rect x="694.9" y="203.7" width="23.300000000000068" height="10.9" fill="#9b8671" stroke="#2b2b2b" stroke-width="1"/>
<rect x="718.2" y="203.7" width="23.299999999999955" height="10.9" fill="#9d9d9d" stroke="#2b2b2b" stroke-width="1"/>
<rect x="741.5" y="203.7" width="24.0" height="10.9" fill="#9d9d9d" stroke="#2b2b2b" stroke-width="1"/>
<rect x="709.5" y="192.5" width="24.0" height="10.8" fill="#9d9d9d" stroke="#2b2b2b" stroke-width="1"/>
<rect x="733.5" y="192.5" width="23.200000000000045" height="10.8" fill="#9d9d9d" stroke="#2b2b2b" stroke-width="1"/>
<polygon points="658.5,195.0 681.8,189.9 683.3,201.5 660.7,205.9" fill="#9d9d9d" stroke="#2b2b2b" stroke-width="1" stroke-linejoin="round" />
<polygon points="685.5,188.2 710.2,191.4 708.7,203.0 684.3,199.4" fill="#9d9d9d" stroke="#a8332e" stroke-width="1.1" stroke-linejoin="round" />
<line x1="770.4" y1="188.1" x2="786" y2="188.1" stroke="#b23a33" stroke-width="1.6"/>
<polygon points="791.5,188.1 785,184.6 785,191.6" fill="#b23a33"/>
<rect x="789.9" y="214.5" width="91.7" height="9.4" fill="#a68565"/>
<line x1="789.9" y1="214.5" x2="881.6" y2="214.5" stroke="#2b2b2b" stroke-width="1.2"/>
<rect x="815" y="161" width="50" height="53.5" rx="2" fill="#d9d9d9" opacity="0.9"/>
<path d="M815,174 L865,172 M815,188 L865,186 M815,201 L865,200 M840,161 L840,214" stroke="#c4c4c4" stroke-width="1"/>
<polygon points="807.0,193.5 831.9,199.8 829.5,209.9 805.4,204.4" fill="#9b8671" stroke="#2b2b2b" stroke-width="1" stroke-linejoin="round" />
<polygon points="838.9,194.3 862.9,200.0 860.5,210.0 836.5,205.0" fill="#9b8671" stroke="#2b2b2b" stroke-width="1" stroke-linejoin="round" />
<polygon points="817.9,184.2 841.2,189.6 838.9,200.5 815.5,195.1" fill="#9d9d9d" stroke="#2b2b2b" stroke-width="1" stroke-linejoin="round" />
<polygon points="820.2,173.3 843.5,178.8 841.2,189.6 817.9,184.2" fill="#9b8671" stroke="#2b2b2b" stroke-width="1" stroke-linejoin="round" />
<polygon points="806.2,163.2 829.5,158.6 831.5,169.4 808.2,174.6" fill="#9d9d9d" stroke="#2b2b2b" stroke-width="1" stroke-linejoin="round" />
<polygon points="840.4,160.9 863.7,155.4 865.7,166.3 842.4,171.0" fill="#9b8671" stroke="#2b2b2b" stroke-width="1" stroke-linejoin="round" />
<path d="M811.6,176.4 C806,187 803.5,199 803.9,210.6" fill="none" stroke="#c8332c" stroke-width="1.3" stroke-dasharray="3,2"/>
<path d="M868.4,167.1 C869,180 866,190 862.2,196.6" fill="none" stroke="#c8332c" stroke-width="1.3" stroke-dasharray="3,2"/>
<path d="M662,263.5 L881,263.5 Q887,263.5 887,269.5 L887,403.5 Q887,409.5 881,409.5 L689.5,409.5 L673.6,421 L671,409.5 L662.4,409.5 Q656.4,409.5 656.4,403.5 L656.4,269.5 Q656.4,263.5 662,263.5 Z" fill="#dde8f2" stroke="#56738f" stroke-width="1.5" stroke-linejoin="round"/>
<clipPath id="avclip"><circle cx="673.5" cy="255.4" r="17.2"/></clipPath>
<circle cx="673.5" cy="255.4" r="17.2" fill="#e6e6e6"/>
<g clip-path="url(#avclip)">
<path d="M658,275 C659,266 664,263 670,261.5 L677,261.5 C683,263 688,266 689,275 Z" fill="#515a64" stroke="#2b2f34" stroke-width="0.8"/>
<path d="M670.5,261.5 L673.5,265 L676.5,261.5 Z" fill="#e3c2a6"/>
<ellipse cx="673.5" cy="252" rx="7" ry="8.6" fill="#e6c6ab" stroke="#3a2a20" stroke-width="0.7"/>
<path d="M666.5,251 C666.5,244 669,242.3 673.5,242.3 C678,242.3 680.5,244 680.5,251 L679.5,247.5 C677,246 670,246 667.5,247.5 Z" fill="#3b2b21"/>
<path d="M666.8,253 C667,259 669.5,263.5 673.5,263.5 C677.5,263.5 680,259 680.2,253 L678.5,256 C676,255 671,255 668.5,256 Z" fill="#3b2b21"/>
<circle cx="670.8" cy="251.5" r="0.7" fill="#2a2a2a"/><circle cx="676.2" cy="251.5" r="0.7" fill="#2a2a2a"/>
</g>
<circle cx="673.5" cy="255.4" r="17.2" fill="none" stroke="#3d4858" stroke-width="1.3"/>
<g>
<circle cx="667.4" cy="283.2" r="5.4" fill="#ffffff" stroke="#ffffff" stroke-width="2.4"/>
<path d="M662.1,283.4 C662.0,276.8 665.8,272.4 671.8,270.8 L672.4,273.4 C668.8,274.8 667.4,276.4 667.2,278.8 L664.8,283.4 Z" fill="#ffffff" stroke="#ffffff" stroke-width="2.4" stroke-linejoin="round"/>
<circle cx="667.4" cy="283.2" r="5.4" fill="#4479b6" stroke="#2f5f92" stroke-width="0.6"/>
<path d="M662.1,283.4 C662.0,276.8 665.8,272.4 671.8,270.8 L672.4,273.4 C668.8,274.8 667.4,276.4 667.2,278.8 L664.8,283.4 Z" fill="#4479b6"/>
</g>
<g>
<circle cx="680.1" cy="283.2" r="5.4" fill="#ffffff" stroke="#ffffff" stroke-width="2.4"/>
<path d="M674.8,283.4 C674.7,276.8 678.5,272.4 684.5,270.8 L685.1,273.4 C681.5,274.8 680.1,276.4 679.9,278.8 L677.5,283.4 Z" fill="#ffffff" stroke="#ffffff" stroke-width="2.4" stroke-linejoin="round"/>
<circle cx="680.1" cy="283.2" r="5.4" fill="#4479b6" stroke="#2f5f92" stroke-width="0.6"/>
<path d="M674.8,283.4 C674.7,276.8 678.5,272.4 684.5,270.8 L685.1,273.4 C681.5,274.8 680.1,276.4 679.9,278.8 L677.5,283.4 Z" fill="#4479b6"/>
</g>
<g transform="rotate(180 869.3 413.2)">
<circle cx="869.6" cy="416.6" r="5.4" fill="#ffffff" stroke="#ffffff" stroke-width="2.4"/>
<path d="M864.3,416.8 C864.2,410.2 868.0,405.8 874.0,404.2 L874.6,406.8 C871.0,408.2 869.6,409.8 869.4,412.2 L867.0,416.8 Z" fill="#ffffff" stroke="#ffffff" stroke-width="2.4" stroke-linejoin="round"/>
<circle cx="869.6" cy="416.6" r="5.4" fill="#4479b6" stroke="#2f5f92" stroke-width="0.6"/>
<path d="M864.3,416.8 C864.2,410.2 868.0,405.8 874.0,404.2 L874.6,406.8 C871.0,408.2 869.6,409.8 869.4,412.2 L867.0,416.8 Z" fill="#4479b6"/>
</g>
<g transform="rotate(180 881.9 413.2)">
<circle cx="882.2" cy="416.6" r="5.4" fill="#ffffff" stroke="#ffffff" stroke-width="2.4"/>
<path d="M876.9,416.8 C876.8,410.2 880.6,405.8 886.6,404.2 L887.2,406.8 C883.6,408.2 882.2,409.8 882.0,412.2 L879.6,416.8 Z" fill="#ffffff" stroke="#ffffff" stroke-width="2.4" stroke-linejoin="round"/>
<circle cx="882.2" cy="416.6" r="5.4" fill="#4479b6" stroke="#2f5f92" stroke-width="0.6"/>
<path d="M876.9,416.8 C876.8,410.2 880.6,405.8 886.6,404.2 L887.2,406.8 C883.6,408.2 882.2,409.8 882.0,412.2 L879.6,416.8 Z" fill="#4479b6"/>
</g>
<circle cx="672.5" cy="444.5" r="16" fill="#7b7b7b" stroke="#2b2b2b" stroke-width="1.4"/>
<circle cx="672.5" cy="444.5" r="12.6" fill="#efefef" stroke="#2b2b2b" stroke-width="1.1"/>
<line x1="672.5" y1="435.0" x2="672.5" y2="432.5" stroke="#555" stroke-width="0.9"/>
<line x1="682.0" y1="444.5" x2="684.5" y2="444.5" stroke="#555" stroke-width="0.9"/>
<line x1="672.5" y1="454.0" x2="672.5" y2="456.5" stroke="#555" stroke-width="0.9"/>
<line x1="663.0" y1="444.5" x2="660.5" y2="444.5" stroke="#555" stroke-width="0.9"/>
<polygon points="679.6,437 674.4,446.3 670.6,442.7" fill="#e06a66" stroke="#2b2b2b" stroke-width="0.8"/>
<polygon points="665.4,452.5 674.4,446.3 670.6,442.7" fill="#5f9fd6" stroke="#2b2b2b" stroke-width="0.8"/>
<text x="0" y="0" transform="translate(193.5,437) rotate(-28.5)" font-family="Liberation Sans" font-size="11.5" fill="#eadcc4" textLength="48" lengthAdjust="spacingAndGlyphs">материк</text>
</svg>
<div class="t" id="title1" style="left:22.6px;top:13.2px;font-size:24.5px;font-weight:700;color:#111;transform:scaleX(0.9664)">ФУНДАМЕНТ ИЗ</div>
<div class="t" id="title2" style="left:221.5px;top:13.2px;font-size:24.5px;font-weight:700;color:#a0302f;transform:scaleX(0.9231)">БЕССЕР-БЛОКОВ</div>
<div class="t" id="title3" style="left:426.9px;top:13.2px;font-size:24.5px;font-weight:700;color:#111;transform:scaleX(0.9487)">(ДЕКОРАТИВНЫЙ БЛОЧНЫЙ ЦОКОЛЬ)</div>
<div class="t" id="h1" style="left:54.5px;top:59.4px;font-size:17.8px;font-weight:700;color:#1a1a1a;transform:scaleX(0.9452)">КОНСТРУКТИВ И ВНЕШНИЙ ВИД</div>
<div class="t" id="s1" style="left:96.8px;top:80.7px;font-size:14.5px;font-weight:400;color:#282828;transform:scaleX(1.0392)">(Эстетика "рваного камня")</div>
<div class="t" id="h2" style="left:443.6px;top:59.6px;font-size:17.8px;font-weight:700;color:#1a1a1a;transform:scaleX(0.9452)">ПРЕИМУЩЕСТВА</div>
<div class="t" id="s2" style="left:413.1px;top:80.7px;font-size:14.5px;font-weight:400;color:#282828;transform:scaleX(1.0049)">(Скорость, Рельеф, Эстетика)</div>
<div class="t" id="h3a" style="left:722.4px;top:59.6px;font-size:17.8px;font-weight:700;color:#1a1a1a;transform:scaleX(0.9120)">НЮАНСЫ И</div>
<div class="t" id="h3b" style="left:675.0px;top:79.2px;font-size:17.8px;font-weight:700;color:#1a1a1a;transform:scaleX(0.9327)">ЭКСПЕРТНОЕ МНЕНИЕ</div>
<div class="t" id="b1" style="left:107.6px;top:108.0px;font-size:12.2px;font-weight:700;color:#1a1a1a;transform:scaleX(0.8957)">Вибропрессованные</div>
<div class="t" id="b2" style="left:107.6px;top:121.1px;font-size:12.2px;font-weight:700;color:#1a1a1a;transform:scaleX(0.9123)">бетонные блоки</div>
<div class="t" id="b3" style="left:107.6px;top:137.8px;font-size:12.2px;font-weight:400;color:#282828;transform:scaleX(0.9841)">Высокая прочность</div>
<div class="t" id="b4" style="left:107.6px;top:150.6px;font-size:12.2px;font-weight:400;color:#282828;transform:scaleX(1.0028)">и морозостойкость</div>
<div class="t" id="b5" style="left:107.6px;top:166.1px;font-size:12.2px;font-weight:400;color:#282828;transform:scaleX(0.9725)">Не требует облицовки</div>
<div class="t" id="l1" style="left:17.1px;top:184.2px;font-size:12.6px;font-weight:400;color:#282828;transform:scaleX(0.9324)">Имитация</div>
<div class="t" id="l2" style="left:17.1px;top:197.5px;font-size:12.6px;font-weight:400;color:#282828;transform:scaleX(0.9373)">натурального</div>
<div class="t" id="l3" style="left:17.1px;top:211.2px;font-size:12.6px;font-weight:400;color:#282828;transform:scaleX(0.9588)">колотого камня</div>
<div class="t" id="l4" style="left:297.3px;top:159.1px;font-size:12.6px;font-weight:400;color:#282828;transform:scaleX(0.9121)">Не требует</div>
<div class="t" id="l5" style="left:297.3px;top:172.0px;font-size:12.6px;font-weight:400;color:#282828;transform:scaleX(0.9681)">облицовки</div>
<div class="t" id="l6" style="left:20.2px;top:432.6px;font-size:12.6px;font-weight:400;color:#282828;transform:scaleX(0.9462)">Железобетонные</div>
<div class="t" id="l7" style="left:20.2px;top:445.6px;font-size:12.6px;font-weight:400;color:#282828;transform:scaleX(0.9768)">балки/перемычки</div>
<div class="t" id="l8" style="left:276.2px;top:420.4px;font-size:12.6px;font-weight:400;color:#282828;transform:scaleX(0.9347)">Армирование и</div>
<div class="t" id="l9" style="left:276.2px;top:433.7px;font-size:12.6px;font-weight:400;color:#282828;transform:scaleX(0.9450)">заливка бетоном</div>
<div class="t" id="l10" style="left:276.2px;top:446.9px;font-size:12.6px;font-weight:400;color:#282828;transform:scaleX(0.9357)">пустот</div>
<div class="t" id="m1" style="left:444.5px;top:108.9px;font-size:12.8px;font-weight:400;color:#282828;transform:scaleX(0.8973)"><b style="color:#1a1a1a">Готовая эстетика:</b> Красивый</div>
<div class="t" id="m2" style="left:444.5px;top:121.3px;font-size:12.8px;font-weight:400;color:#282828;transform:scaleX(0.9409)">высокий цоколь (20 см) сразу</div>
<div class="t" id="m3" style="left:444.5px;top:133.9px;font-size:12.8px;font-weight:400;color:#282828;transform:scaleX(0.9283)">после монтажа. Нет риска</div>
<div class="t" id="m4" style="left:444.5px;top:146.3px;font-size:12.8px;font-weight:400;color:#282828;transform:scaleX(0.9417)">отпадания плитки</div>
<div class="t" id="m5" style="left:444.5px;top:233.5px;font-size:12.8px;font-weight:400;color:#282828;transform:scaleX(0.8668)"><b style="color:#1a1a1a">Работа на рельефе:</b> Идеальное</div>
<div class="t" id="m6" style="left:444.5px;top:246.0px;font-size:12.8px;font-weight:400;color:#282828;transform:scaleX(0.9181)">решение для участков с уклоном.</div>
<div class="t" id="m7" style="left:444.5px;top:258.4px;font-size:12.8px;font-weight:400;color:#282828;transform:scaleX(0.9181)">Нивелирование перепадов высот</div>
<div class="t" id="m8" style="left:444.5px;top:364.7px;font-size:12.8px;font-weight:400;color:#282828;transform:scaleX(0.9135)"><b style="color:#1a1a1a">Скорость:</b> Монтаж памятника</div>
<div class="t" id="m9" style="left:444.5px;top:377.3px;font-size:12.8px;font-weight:400;color:#282828;transform:scaleX(0.9430)">возможен практически сразу.</div>
<div class="t" id="m10" style="left:444.5px;top:389.9px;font-size:12.8px;font-weight:400;color:#282828;transform:scaleX(0.9337)">Не нужно ждать застывания</div>
<div class="t" id="m11" style="left:444.5px;top:402.3px;font-size:12.8px;font-weight:400;color:#282828;transform:scaleX(0.9091)">бетона (2-3 недели)</div>
<div class="t" id="r1" style="left:698.3px;top:109.0px;font-size:12.8px;font-weight:400;color:#282828;transform:scaleX(0.9029)"><b style="color:#1a1a1a">Нюанс:</b> Блоки тяжелые.</div>
<div class="t" id="r2" style="left:698.3px;top:121.7px;font-size:12.8px;font-weight:400;color:#282828;transform:scaleX(0.9480)">Критически важно выставить</div>
<div class="t" id="r3" style="left:698.3px;top:134.3px;font-size:12.8px;font-weight:400;color:#282828;transform:scaleX(0.9217)">первый ряд идеально по уровню</div>
<div class="t" id="r4" style="left:698.4px;top:245.4px;font-size:12.8px;font-weight:400;color:#282828;transform:scaleX(0.9017)"><b style="color:#1a1a1a">Мнение эксперта</b> (Марк Каменев):</div>
<div class="t" id="q1" style="left:697.3px;top:271.4px;font-size:12.8px;font-weight:400;color:#282828;transform:scaleX(0.8909)">"Бессер - это «золотая середина»</div>
<div class="t" id="q2" style="left:696.2px;top:283.6px;font-size:12.8px;font-weight:400;color:#282828;transform:scaleX(0.9280)">для тех, кто боится плитки.</div>
<div class="t" id="q3" style="left:672.9px;top:296.3px;font-size:12.8px;font-weight:400;color:#282828;transform:scaleX(0.9252)">Главная болезнь бетонных цоколей</div>
<div class="t" id="q4" style="left:666.8px;top:309.7px;font-size:12.8px;font-weight:400;color:#282828;transform:scaleX(0.9190)">- отлетающая через 5 лет облицовка.</div>
<div class="t" id="q5" style="left:699.8px;top:323.2px;font-size:12.8px;font-weight:400;color:#282828;transform:scaleX(0.9319)">Бессер-блок лишен этого</div>
<div class="t" id="q6" style="left:676.6px;top:336.6px;font-size:12.8px;font-weight:400;color:#282828;transform:scaleX(0.9391)">недостатка: это цельный цветной</div>
<div class="t" id="q7" style="left:678.7px;top:350.1px;font-size:12.8px;font-weight:400;color:#282828;transform:scaleX(0.9353)">бетон. Если у вас сложный грунт</div>
<div class="t" id="q8" style="left:678.7px;top:363.4px;font-size:12.8px;font-weight:400;color:#282828;transform:scaleX(0.9396)">или вы хотите поднять памятник</div>
<div class="t" id="q9" style="left:686.3px;top:376.7px;font-size:12.8px;font-weight:400;color:#282828;transform:scaleX(0.9238)">повыше без лишних затрат на</div>
<div class="t" id="q10" style="left:674.8px;top:389.7px;font-size:12.8px;font-weight:400;color:#282828;transform:scaleX(0.9221)">гранитные работы - это ваш выбор"</div>
<div class="t" id="r5" style="left:698.1px;top:432.0px;font-size:12.8px;font-weight:700;color:#1a1a1a;transform:scaleX(0.8693)">Консультация эксперта:</div>
<div class="t" id="r6" style="left:698.1px;top:445.3px;font-size:12.8px;font-weight:400;color:#282828;transform:scaleX(0.9209)">Подбор материалов под тип почвы</div>
<div class="t" id="vs" style="left:509.5px;top:180.9px;font-size:15.4px;font-weight:700;color:#a3292b;transform:scaleX(0.9011)">VS</div>
<div class="t" id="cap" style="left:19.5px;top:476.9px;font-size:18.5px;font-weight:700;color:#111;transform:scaleX(0.9542)">Современная, надежная и эстетичная альтернатива бетонному цоколю без риска для облицовки.</div>
</body></html>
